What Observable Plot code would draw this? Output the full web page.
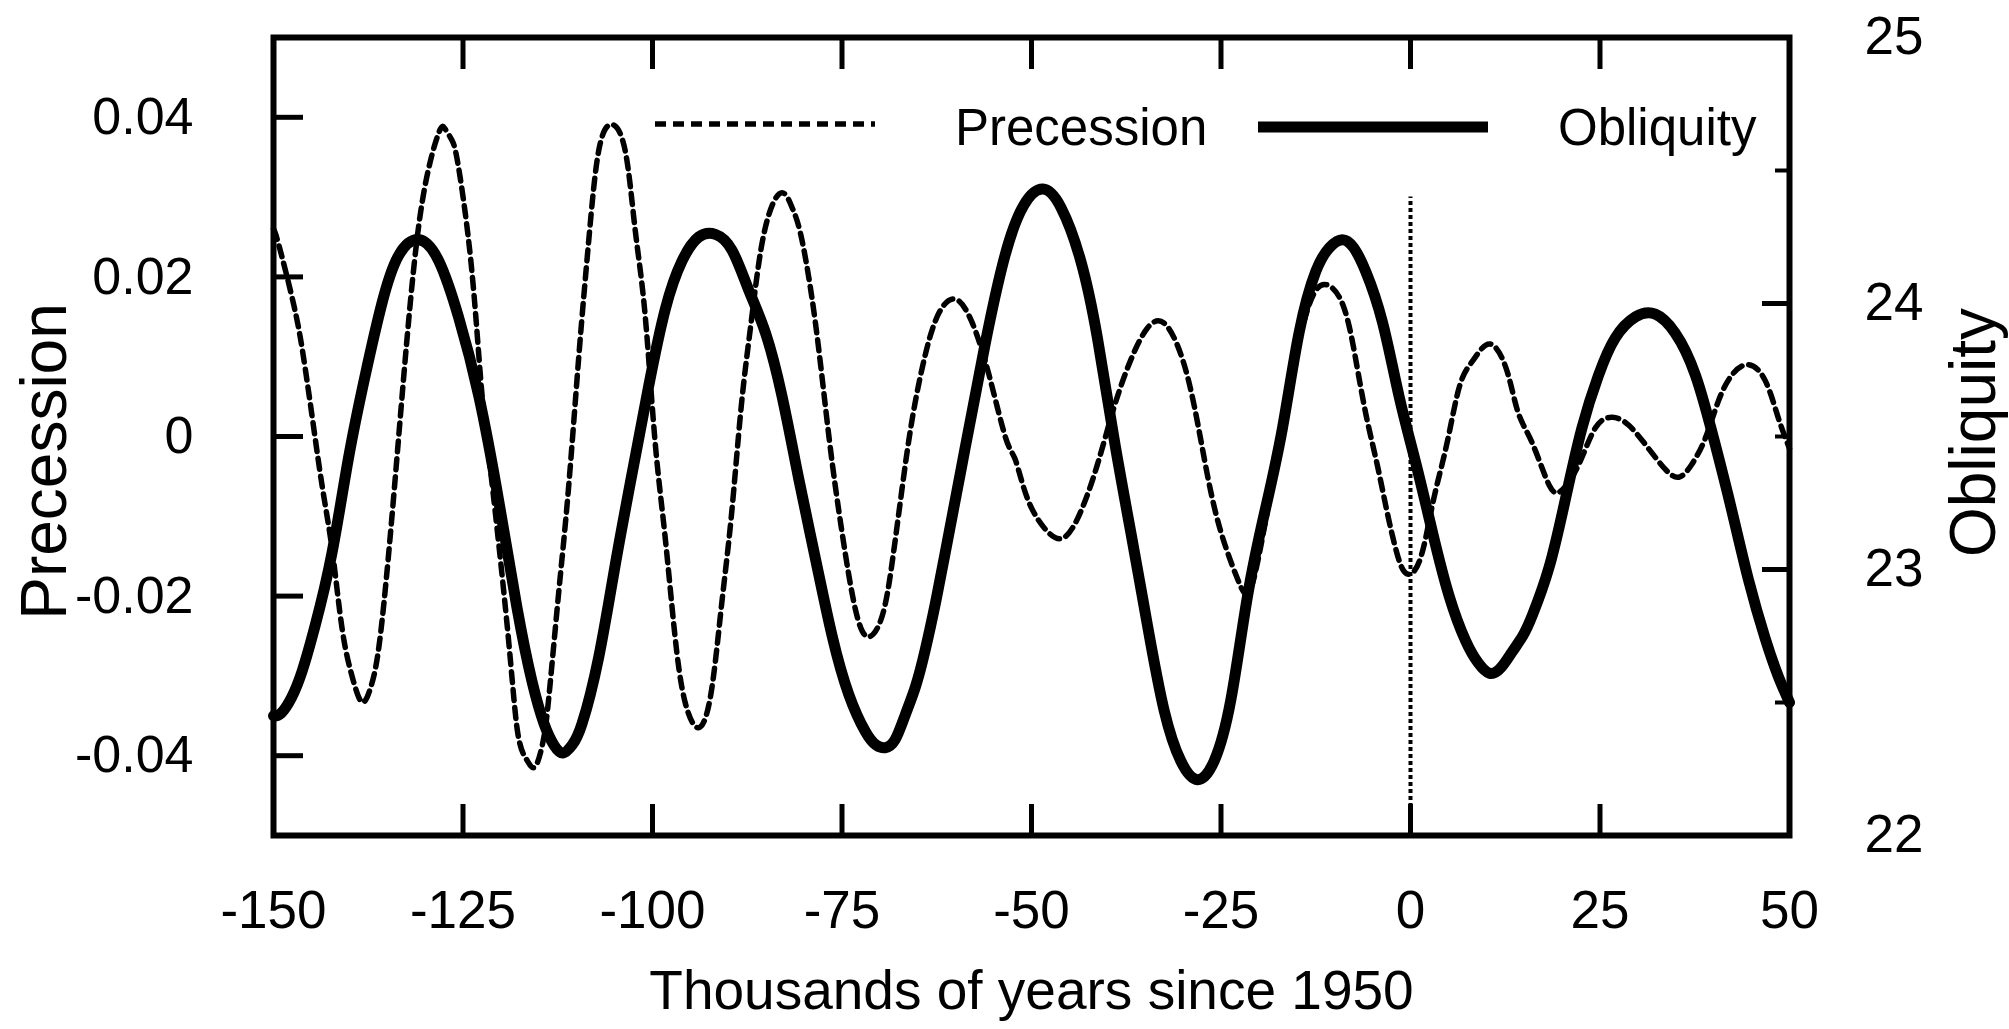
<!DOCTYPE html>
<html>
<head>
<meta charset="utf-8">
<script src="https://cdn.jsdelivr.net/npm/d3@7"></script>
<script src="https://cdn.jsdelivr.net/npm/@observablehq/plot@0.6"></script>
<style>
  html, body { margin: 0; padding: 0; background: #fff; }
  #chart { position: relative; width: 2009px; height: 1029px; font-family: "Liberation Sans", Arial, Helvetica, sans-serif; }
</style>
</head>
<body>
<div id="chart"></div>
<script>
// ---------- data ----------
const precessionYears = [-150,-149.3,-147.4,-146.1,-144.8,-143.5,-142.2,-140.9,-139.5,-138.3,-137.2,-136.1,-134.8,-133.5,-132.2,-130.4,-128.3,-127.4,-126.5,-125.6,-123.9,-122.6,-121.3,-119.1,-117.8,-116.6,-115.5,-114.5,-113.7,-112.4,-111.1,-109.7,-108.4,-107.1,-105.4,-103.6,-102.3,-101.0,-99.7,-98.4,-97.1,-95.8,-94.0,-92.3,-90.9,-89.6,-88.3,-87.0,-85.7,-84.2,-82.7,-81.5,-80.3,-78.5,-76.7,-75.0,-73.2,-71.5,-69.7,-68.4,-67.1,-65.7,-64.0,-62.2,-60.0,-57.8,-55.6,-53.4,-52.1,-50.4,-47.8,-45.6,-43.5,-41.3,-39.1,-36.9,-34.7,-32.5,-30.3,-28.5,-26.8,-25.0,-22.8,-21.3,-19.8,-18.3,-16.9,-14.7,-12.8,-11.0,-8.8,-7.1,-5.8,-4.4,-3.1,-1.8,-0.5,1.3,3.0,4.8,6.5,8.3,10.5,12.7,14.2,16.1,18.3,20.0,22.2,24.4,26.6,28.8,31.4,33.6,35.4,37.1,38.9,40.6,42.4,44.6,46.8,48.5,50.0];
const precessionValues = [0.026,0.024,0.0168,0.0103,0.0018,-0.0067,-0.0146,-0.0244,-0.0305,-0.0333,-0.0315,-0.0264,-0.0146,-0.0002,0.0142,0.0293,0.0378,0.0386,0.0372,0.0338,0.0214,0.0064,-0.0048,-0.0244,-0.0370,-0.0405,-0.0414,-0.0385,-0.0329,-0.0198,-0.0067,0.0103,0.0247,0.0358,0.0391,0.0358,0.0260,0.0155,-0.0002,-0.0120,-0.0244,-0.0329,-0.0365,-0.0323,-0.0212,-0.0100,0.0037,0.0142,0.0234,0.0290,0.0305,0.0285,0.0247,0.0142,-0.0002,-0.0120,-0.0218,-0.0251,-0.0225,-0.0159,-0.0067,0.0024,0.0103,0.0155,0.0172,0.0142,0.0077,-0.0002,-0.0030,-0.0081,-0.0120,-0.0126,-0.0094,-0.0035,0.0037,0.0096,0.0136,0.0142,0.0103,0.0037,-0.0048,-0.0120,-0.0179,-0.0195,-0.0140,-0.0060,0.0020,0.0120,0.0178,0.0190,0.0162,0.0090,0.0024,-0.0035,-0.0094,-0.0146,-0.0172,-0.0153,-0.0081,-0.0009,0.0064,0.0096,0.0116,0.0083,0.0030,-0.0009,-0.0061,-0.0067,-0.0035,0.0011,0.0024,0.0014,-0.0015,-0.0041,-0.0051,-0.0035,-0.0002,0.0044,0.0077,0.0090,0.0070,0.0024,-0.0015];

const obliquityYears = [-150,-149.0,-147.6,-146.2,-144.5,-142.3,-140.1,-137.9,-135.7,-133.5,-130.8,-128.2,-125.6,-122.9,-120.3,-117.9,-115.9,-114.3,-113.0,-111.8,-110.6,-109.3,-107.1,-104.9,-102.7,-100.5,-98.3,-96.1,-93.9,-91.7,-89.5,-87.3,-85.1,-82.9,-80.7,-78.5,-76.3,-74.1,-71.9,-70.5,-69.3,-68.0,-66.7,-65.3,-64.0,-62.7,-61.4,-58.8,-56.1,-53.5,-51.0,-48.5,-46.1,-43.5,-41.3,-39.1,-36.9,-34.7,-32.5,-30.3,-28.1,-25.9,-23.7,-21.5,-19.2,-16.9,-14.7,-12.5,-10.7,-9.0,-7.5,-5.9,-3.7,-1.5,0.7,2.9,5.1,7.3,8.9,10.4,11.9,13.4,14.8,16.1,18.3,20.4,22.6,24.8,27.0,29.7,32.3,34.9,37.6,40.2,42.4,44.6,46.8,48.5,50];
const obliquityValues = [22.45,22.46,22.52,22.62,22.79,23.06,23.42,23.73,24.00,24.18,24.24,24.16,23.95,23.65,23.26,22.86,22.58,22.42,22.34,22.31,22.34,22.42,22.67,23.02,23.36,23.69,23.98,24.16,24.25,24.26,24.20,24.05,23.89,23.65,23.34,23.04,22.75,22.53,22.39,22.34,22.33,22.36,22.45,22.56,22.70,22.87,23.06,23.45,23.85,24.18,24.37,24.43,24.36,24.16,23.87,23.49,23.14,22.79,22.47,22.28,22.21,22.28,22.51,22.90,23.22,23.53,23.89,24.12,24.21,24.24,24.21,24.12,23.93,23.65,23.40,23.14,22.90,22.73,22.65,22.61,22.63,22.69,22.75,22.83,23.01,23.26,23.53,23.73,23.87,23.95,23.96,23.89,23.73,23.47,23.22,22.96,22.74,22.60,22.50];

const yearDomain = [-150, 50];
const yearTicks = [-150, -125, -100, -75, -50, -25, 0, 25, 50];
const precessionDomain = [-0.05, 0.05];
const precessionTicks = [-0.04, -0.02, 0, 0.02, 0.04];
const obliquityDomain = [22, 25];
const obliquityTicks = [22, 23, 24, 25];
const obliquityMinorTicks = [22.5, 23.5, 24.5];
const presentYear = [0];
const presentMarkerTop = 0.030;

const xTitle = "Thousands of years since 1950";
const leftTitle = "Precession";
const rightTitle = "Obliquity";
const legendLabels = ["Precession", "Obliquity"];

// ---------- build tables ----------
const toPrecessionSpace = d3.scaleLinear().domain(obliquityDomain).range(precessionDomain);
const precession = precessionYears.map((t, i) => ({t, v: precessionValues[i]}));
const obliquity = obliquityYears.map((t, i) => ({t, o: obliquityValues[i], y: toPrecessionSpace(obliquityValues[i])}));

// ---------- layout ----------
const W = 2009, H = 1029;
const mL = 273, mR = 220, mT = 37, mB = 194;
const FONT = '"Liberation Sans", Arial, Helvetica, sans-serif';
const dashStyle = "11,7";

const chart = Plot.plot({
  width: W, height: H,
  marginLeft: mL, marginRight: mR, marginTop: mT, marginBottom: mB,
  style: {fontFamily: FONT, background: "white", color: "black"},
  x: {domain: yearDomain, label: null},
  y: {domain: precessionDomain, label: null},
  marks: [
    Plot.line(obliquity, {x: "t", y: "y", stroke: "black", strokeWidth: 11, curve: "natural", strokeLinejoin: "round"}),
    Plot.ruleX(presentYear, {y1: precessionDomain[0], y2: presentMarkerTop, stroke: "black", strokeWidth: 4, strokeDasharray: "4,3"}),
    Plot.line(precession, {x: "t", y: "v", stroke: "black", strokeWidth: 5.5, strokeDasharray: dashStyle, curve: "natural"}),
    Plot.frame({stroke: "black", strokeWidth: 6}),
    // bottom axis (labels + inward ticks)
    Plot.axisX(yearTicks, {anchor: "bottom", tickSize: -31, tickPadding: 86, strokeWidth: 5, fontSize: 53, tickFormat: d => String(d), label: null}),
    // top axis (inward ticks only)
    Plot.axisX(yearTicks.slice(1, -1), {anchor: "top", tickSize: -31, strokeWidth: 5, tickFormat: () => "", label: null}),
    // left axis
    Plot.axisY(precessionTicks, {anchor: "left", tickSize: -30, tickPadding: 110, strokeWidth: 5, fontSize: 52, tickFormat: d => d === 0 ? "0" : d.toFixed(2), label: null}),
    // right axis (obliquity)
    Plot.axisY(obliquityTicks.map(toPrecessionSpace), {anchor: "right", tickSize: -28, tickPadding: 103, strokeWidth: 5, fontSize: 53, tickFormat: d => String(Math.round(toPrecessionSpace.invert(d))), label: null}),
    Plot.axisY(obliquityMinorTicks.map(toPrecessionSpace), {anchor: "right", tickSize: -15, strokeWidth: 4, tickFormat: () => "", label: null}),
    // titles
    Plot.text([xTitle], {frameAnchor: "bottom", dy: 173, fontSize: 55, textAnchor: "middle"}),
    Plot.text([leftTitle], {frameAnchor: "left", dx: -228, dy: 25, rotate: -90, fontSize: 64, textAnchor: "middle"}),
    Plot.text([rightTitle], {frameAnchor: "right", dx: 185, dy: -4, rotate: -90, fontSize: 64, textAnchor: "middle"})
  ]
});

const container = document.getElementById("chart");
container.appendChild(chart);

// ---------- legend (drawn inside the frame, top) ----------
const legend = d3.select(container).append("svg")
  .attr("width", W).attr("height", H)
  .style("position", "absolute").style("left", "0px").style("top", "0px")
  .style("pointer-events", "none")
  .style("font-family", FONT);

legend.append("line").attr("x1", 655).attr("x2", 875).attr("y1", 124).attr("y2", 124)
  .attr("stroke", "black").attr("stroke-width", 5.5).attr("stroke-dasharray", dashStyle);
legend.append("text").attr("x", 955).attr("y", 145).attr("font-size", 51).text(legendLabels[0]);
legend.append("line").attr("x1", 1258).attr("x2", 1488).attr("y1", 127).attr("y2", 127)
  .attr("stroke", "black").attr("stroke-width", 11);
legend.append("text").attr("x", 1558).attr("y", 145).attr("font-size", 51).text(legendLabels[1]);
</script>
</body>
</html>
